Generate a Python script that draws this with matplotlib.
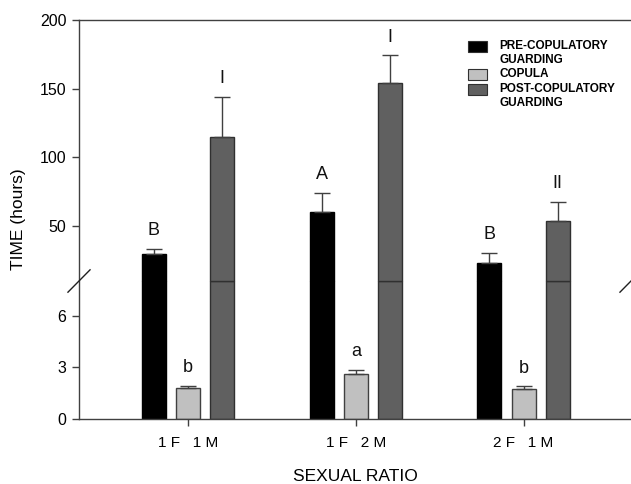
import numpy as np
import matplotlib
matplotlib.use("Agg")
import matplotlib.pyplot as plt
from matplotlib.patches import Rectangle

plt.rcParams['font.family'] = ['Liberation Sans', 'DejaVu Sans']

ratios = ["1 F   1 M", "1 F   2 M", "2 F   1 M"]
series = ["PRE-COPULATORY\nGUARDING", "COPULA", "POST-COPULATORY\nGUARDING"]
means = [
    [29.4, 59.9, 22.9],     # pre-copulatory guarding
    [1.78, 2.59, 1.72],     # copula
    [114.9, 154.3, 54.0],   # post-copulatory guarding
]
errors = [
    [4.0, 14.5, 7.8],
    [0.15, 0.27, 0.18],
    [29.4, 19.9, 13.4],
]
letters = [
    ["B", "A", "B"],
    ["b", "a", "b"],
    ["I", "I", "II"],
]
colors = ["#000000", "#c0c0c0", "#606060"]
edges = ["#000000", "#404040", "#303030"]

# broken y axis: 0-8 below, 10-200 above
LOW_TOP, HIGH_BOT = 8.0, 10.0
LOW_K, HIGH_K = 138.0 / 8.0, 261.0 / 190.0


def fwd(v):
    v = np.asarray(v, dtype=float)
    return np.where(v <= LOW_TOP, v * LOW_K,
                    np.where(v < HIGH_BOT, LOW_TOP * LOW_K,
                             LOW_TOP * LOW_K + (v - HIGH_BOT) * HIGH_K))


def inv(y):
    y = np.asarray(y, dtype=float)
    brk = LOW_TOP * LOW_K
    return np.where(y <= brk, y / LOW_K, HIGH_BOT + (y - brk) / HIGH_K)


fig = plt.figure(figsize=(6.31, 4.84), dpi=100)
ax = fig.add_axes([79 / 631, 1 - 419 / 484, 1 - 79 / 631, 399 / 484])
ax.set_yscale('function', functions=(fwd, inv))

x = np.arange(1, len(ratios) + 1)
width = 0.144
step = 0.204

for i in range(3):
    xs = x + (i - 1) * step
    vals = np.array(means[i])
    low = np.minimum(vals, LOW_TOP)
    ax.bar(xs, low, width, color=colors[i], edgecolor=edges[i], linewidth=1.0, zorder=2)
    hi = vals > HIGH_BOT
    if hi.any():
        ax.bar(xs[hi], vals[hi] - HIGH_BOT, width, bottom=HIGH_BOT,
               color=colors[i], edgecolor=edges[i], linewidth=1.0, zorder=2)
    ax.errorbar(xs, vals, yerr=[np.zeros(3), errors[i]], fmt='none',
                ecolor='#404040', elinewidth=1.0, capsize=5.5, capthick=1.0, zorder=3)
    for xx, v, e, lab in zip(xs, vals, errors[i], letters[i]):
        ax.annotate(lab, (xx, v + e), xytext=(0, 7), textcoords='offset points',
                    ha='center', va='bottom', fontsize=13, color='#111111')

ax.set_xlim(0.35, 3.64)
ax.set_ylim(0, 200)
ax.set_yticks([0, 3, 6, 50, 100, 150, 200])
ax.set_yticklabels(["0", "3", "6", "50", "100", "150", "200"])
ax.set_xticks(x)
ax.set_xticklabels(ratios)
ax.tick_params(axis='y', length=5, width=1, color='#404040', labelsize=11.5, pad=4)
ax.tick_params(axis='x', length=5, width=1, color='#404040', labelsize=11, pad=7)

for s in ['left', 'top', 'bottom']:
    ax.spines[s].set_color('#404040')
    ax.spines[s].set_linewidth(1.0)
ax.spines['right'].set_visible(False)

ax.set_xlabel("SEXUAL RATIO", fontsize=12.5, labelpad=14)
ax.set_ylabel("TIME (hours)", fontsize=12.5, labelpad=10)

# break marks on both sides
ybrk = fwd(LOW_TOP) / fwd(200)
for xa in (0.0, 1.0):
    ax.plot([xa - 0.02, xa + 0.02], [ybrk - 0.028, ybrk + 0.028], transform=ax.transAxes,
            color='#202020', linewidth=1.0, clip_on=False, zorder=5)

# legend drawn by hand so handles sit on the first text line
lx, ly = 0.705, 0.947
row_gap = [0.069, 0.038, 0.0]
for i, name in enumerate(series):
    ax.add_patch(Rectangle((lx, ly - 0.028), 0.034, 0.028, transform=ax.transAxes,
                           facecolor=colors[i], edgecolor='#303030', linewidth=0.8))
    ax.text(lx + 0.057, ly + 0.002, name, transform=ax.transAxes, ha='left', va='top',
            fontsize=8.5, linespacing=1.2, fontweight='semibold')
    ly -= row_gap[i]

fig.savefig("out.png", dpi=100)
